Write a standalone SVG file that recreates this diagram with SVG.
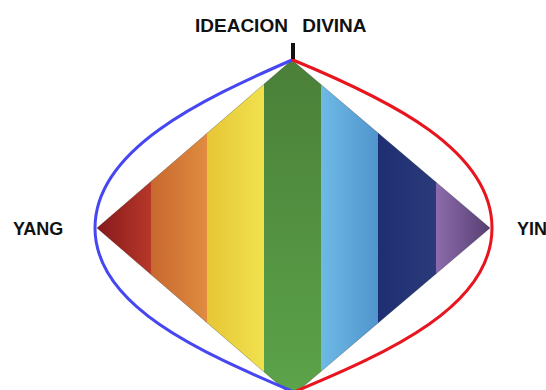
<svg xmlns="http://www.w3.org/2000/svg" width="546" height="390" viewBox="0 0 546 390">
<style>
.lbl{font-family:"Liberation Sans",Arial,sans-serif;font-weight:bold;fill:#111;}
.curve{fill:none;stroke-width:3;stroke-linecap:round;}
</style>
<defs>
<clipPath id="dia"><polygon points="97,228 292,60 490,228 292,396"/></clipPath>
<linearGradient id="gRed" x1="0" y1="0" x2="1" y2="0"><stop offset="0" stop-color="#84181a"/><stop offset="1" stop-color="#b8382a"/></linearGradient>
<linearGradient id="gOra" x1="0" y1="0" x2="1" y2="0"><stop offset="0" stop-color="#c8682e"/><stop offset="1" stop-color="#e08c40"/></linearGradient>
<linearGradient id="gYel" x1="0" y1="0" x2="1" y2="0"><stop offset="0" stop-color="#e6c635"/><stop offset="1" stop-color="#f1e24e"/></linearGradient>
<linearGradient id="gGrn" x1="0" y1="0" x2="0" y2="1"><stop offset="0" stop-color="#4a7f38"/><stop offset="1" stop-color="#5ca44a"/></linearGradient>
<linearGradient id="gLbl" x1="0" y1="0" x2="1" y2="0"><stop offset="0" stop-color="#6ebae6"/><stop offset="1" stop-color="#4f94cc"/></linearGradient>
<linearGradient id="gNav" x1="0" y1="0" x2="1" y2="0"><stop offset="0" stop-color="#1e2e72"/><stop offset="1" stop-color="#2a3a7a"/></linearGradient>
<linearGradient id="gPur" x1="0" y1="0" x2="1" y2="0"><stop offset="0" stop-color="#8c6cac"/><stop offset="1" stop-color="#553c70"/></linearGradient>
</defs>
<rect width="546" height="390" fill="#fff"/>
<g id="diamond" clip-path="url(#dia)">
<rect x="95" y="55" width="57" height="345" fill="url(#gRed)"/>
<rect x="151" y="55" width="57" height="345" fill="url(#gOra)"/>
<rect x="207" y="55" width="58" height="345" fill="url(#gYel)"/>
<rect x="264" y="55" width="58" height="345" fill="url(#gGrn)"/>
<rect x="321" y="55" width="58" height="345" fill="url(#gLbl)"/>
<rect x="378" y="55" width="59" height="345" fill="url(#gNav)"/>
<rect x="436" y="55" width="56" height="345" fill="url(#gPur)"/>
</g>
<polygon points="97,228 292,60 490,228 292,396" fill="none" stroke="#000" stroke-opacity="0.3" stroke-width="0.8"/>
<g id="connectors">
<path class="curve" stroke="#4646f2" d="M292,60 C200,100 95,150 95,228 C95,306 200,352 294,392"/>
<path class="curve" stroke="#e8141e" d="M293,60 C390,100 492,150 492,228 C492,306 390,352 294,392"/>
<rect x="291" y="43" width="4" height="16" fill="#111"/>
</g>
<g id="title"><text class="lbl" x="195" y="32" font-size="19" word-spacing="9">IDEACION DIVINA</text></g>
<g id="yang"><text class="lbl" x="13" y="235" font-size="18">YANG</text></g>
<g id="yin"><text class="lbl" x="517" y="235" font-size="18">YIN</text></g>
</svg>
